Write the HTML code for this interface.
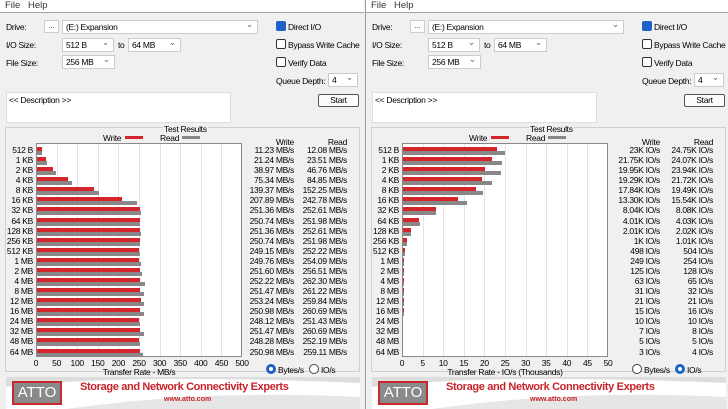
<!DOCTYPE html>
<html><head><meta charset="utf-8"><style>
*{box-sizing:border-box;margin:0;padding:0}
body{width:728px;height:409px;overflow:hidden;background:#f0f0f0;font-family:"Liberation Sans",sans-serif;font-size:8.5px;letter-spacing:-0.3px;color:#000;position:relative}
.win{position:absolute;top:0;width:364px;height:409px;background:#f0f0f0;overflow:hidden}
.abs{position:absolute;white-space:nowrap}
.menu{position:absolute;left:0;top:0;width:364px;height:13px;background:#fff;border-bottom:1px solid #a0a0a0;color:#333;font-size:9.5px;letter-spacing:0}
.dd{position:absolute;height:14px;background:#fff;border:1px solid #ccc;padding-left:3px;line-height:12px}
.dd:after{content:"\2304";position:absolute;right:4px;top:-3px;color:#666;font-size:9px}
.cb{position:absolute;width:10px;height:10px;border:1px solid #333;border-radius:2px;background:#fff}
.cb.on{background:#1e62c8;border-color:#1e62c8}
.panel{position:absolute;left:5px;top:127px;width:355px;height:245px;border:1px solid #d0d0d0}
.plot{position:absolute;left:36px;top:143px;width:206px;height:214px;background:#fff;border:1px solid #888}
.grid{position:absolute;top:0;width:1px;height:212px;background:#e4e4e4}
.w{position:absolute;height:4px;background:#d4252d}
.r{position:absolute;height:4px;background:#888}
.lab{position:absolute;text-align:right;white-space:nowrap}
.banner{position:absolute;left:6px;top:377px;width:354px;height:32px;background:#fff;overflow:hidden}
</style></head><body>
<div class="win" id="w0" style="left:0"></div>
<div class="win" id="w1" style="left:365px;border-left:1px solid #999"></div>
<script>
var sizes=["512 B","1 KB","2 KB","4 KB","8 KB","16 KB","32 KB","64 KB","128 KB","256 KB","512 KB","1 MB","2 MB","4 MB","8 MB","12 MB","16 MB","24 MB","32 MB","48 MB","64 MB"];
var L={w:[11.23,21.24,38.97,75.34,139.37,207.89,251.36,250.74,251.36,250.74,249.15,249.76,251.60,252.22,251.47,253.24,250.98,248.12,251.47,248.28,250.98],
r:[12.08,23.51,46.76,84.85,152.25,242.78,252.61,251.98,252.61,251.98,252.22,254.09,256.51,262.30,261.22,259.84,260.69,251.43,260.69,252.19,259.11],max:500,
ticks:[0,50,100,150,200,250,300,350,400,450,500],title:"Transfer Rate - MB/s",
wt:null,rt:null,io:false};
var R={w:[23,21.75,19.95,19.29,17.84,13.30,8.04,4.01,2.01,1,.498,.249,.125,.063,.031,.021,.015,.010,.007,.005,.003],
r:[24.75,24.07,23.94,21.72,19.49,15.54,8.08,4.03,2.02,1.01,.504,.254,.128,.065,.032,.021,.016,.010,.008,.005,.004],max:50,
ticks:[0,5,10,15,20,25,30,35,40,45,50],title:"Transfer Rate - IO/s (Thousands)",
wt:["23K","21.75K","19.95K","19.29K","17.84K","13.30K","8.04K","4.01K","2.01K","1K","498","249","125","63","31","21","15","10","7","5","3"],
rt:["24.75K","24.07K","23.94K","21.72K","19.49K","15.54K","8.08K","4.03K","2.02K","1.01K","504","254","128","65","32","21","16","10","8","5","4"],io:true};
function build(el,D){
var h='';
h+='<div class="menu"><span class="abs" style="left:5px;top:0">File</span><span class="abs" style="left:28px;top:0">Help</span></div>';
h+='<span class="abs" style="left:6px;top:22px">Drive:</span>';
h+='<div class="abs" style="left:44px;top:20px;width:15px;height:13px;border:1px solid #ccc;background:#fdfdfd;text-align:center;line-height:9px;color:#555">...</div>';
h+='<div class="dd" style="left:62px;top:20px;width:196px">(E:) Expansion</div>';
h+='<span class="abs" style="left:6px;top:40px">I/O Size:</span>';
h+='<div class="dd" style="left:62px;top:38px;width:52px">512 B</div>';
h+='<span class="abs" style="left:118px;top:40px">to</span>';
h+='<div class="dd" style="left:128px;top:38px;width:53px">64 MB</div>';
h+='<span class="abs" style="left:6px;top:58px">File Size:</span>';
h+='<div class="dd" style="left:62px;top:55px;width:53px">256 MB</div>';
h+='<div class="cb on" style="left:276px;top:21px"></div><span class="abs" style="left:288px;top:22px">Direct I/O</span>';
h+='<div class="cb" style="left:276px;top:39px"></div><span class="abs" style="left:288px;top:40px">Bypass Write Cache</span>';
h+='<div class="cb" style="left:276px;top:57px"></div><span class="abs" style="left:288px;top:58px">Verify Data</span>';
h+='<span class="abs" style="left:276px;top:76px">Queue Depth:</span>';
h+='<div class="dd" style="left:328px;top:73px;width:30px">4</div>';
h+='<div class="abs" style="left:6px;top:92px;width:225px;height:31px;background:#fff;border:1px solid #ddd;padding:2px 2px">&lt;&lt; Description &gt;&gt;</div>';
h+='<div class="abs" style="left:318px;top:94px;width:41px;height:13px;border:1px solid #555;border-radius:2px;background:#fcfcfc;text-align:center;line-height:11px">Start</div>';
h+='<div class="panel"></div>';
h+='<span class="abs" style="left:163px;top:124px;background:#f0f0f0;padding:0 1px">Test Results</span>';
h+='<span class="abs" style="left:103px;top:133px">Write</span><div class="abs" style="left:125px;top:136px;width:18px;height:3px;background:#d4252d"></div>';
h+='<span class="abs" style="left:160px;top:133px">Read</span><div class="abs" style="left:182px;top:136px;width:18px;height:3px;background:#888"></div>';
h+='<span class="lab" style="left:250px;width:44px;top:137px">Write</span><span class="lab" style="left:300px;width:47px;top:137px">Read</span>';
h+='<div class="plot">';
for(var i=1;i<10;i++)h+='<div class="grid" style="left:'+(i*20.6-1).toFixed(1)+'px"></div>';
var n=sizes.length,y0=7.5,st=(209-y0)/(n-1);
for(var i=0;i<n;i++){var c=y0+i*st;var ww=D.w[i]/D.max*205,rw=D.r[i]/D.max*205;
h+='<div class="w" style="left:0;top:'+(c-4.5).toFixed(1)+'px;width:'+ww.toFixed(1)+'px"></div>';
h+='<div class="r" style="left:0;top:'+(c-0.5).toFixed(1)+'px;width:'+rw.toFixed(1)+'px"></div>';}
h+='</div>';
for(var i=0;i<n;i++){var cy=143+y0+i*st-5.5;
h+='<span class="lab" style="left:0;width:33px;top:'+cy.toFixed(1)+'px">'+sizes[i]+'</span>';
var wv=D.io?D.wt[i]+' IO/s':D.w[i].toFixed(2)+' MB/s',rv=D.io?D.rt[i]+' IO/s':D.r[i].toFixed(2)+' MB/s';
h+='<span class="lab" style="left:230px;width:64px;top:'+cy.toFixed(1)+'px">'+wv+'</span>';
h+='<span class="lab" style="left:285px;width:62px;top:'+cy.toFixed(1)+'px">'+rv+'</span>';}
for(var i=0;i<11;i++){h+='<span class="abs" style="left:'+(36+i*20.6-15).toFixed(1)+'px;width:30px;text-align:center;top:358px">'+D.ticks[i]+'</span>';}
h+='<span class="abs" style="left:36px;width:206px;text-align:center;top:367px">'+D.title+'</span>';
function rad(x,on){return '<div class="abs" style="left:'+x+'px;top:364px;width:10px;height:10px;border-radius:50%;border:'+(on?'3px solid #1e62c8':'1px solid #444')+';background:#fff"></div>';}
h+=rad(266,!D.io)+'<span class="abs" style="left:278px;top:365px">Bytes/s</span>';
h+=rad(309,D.io)+'<span class="abs" style="left:321px;top:365px">IO/s</span>';
h+='<div class="banner"><svg width="354" height="32" style="position:absolute;left:0;top:0"><path d="M0 10 Q120 -4 354 6 L354 0 L0 0Z" fill="#ddd"/><path d="M60 32 Q200 12 354 20 L354 32Z" fill="#e6e6e6"/></svg>';
h+='<div class="abs" style="left:6px;top:4px;width:50px;height:24px;background:#8a8a8a;border:2px solid #c62a2f;color:#fff;font-size:15px;letter-spacing:0;text-align:center;line-height:20px">ATTO</div>';
h+='<span class="abs" style="left:74px;top:4px;color:#c8232b;font-weight:bold;font-size:11px;letter-spacing:-0.35px">Storage and Network Connectivity Experts</span>';
h+='<span class="abs" style="left:158px;top:19px;color:#c8232b;font-weight:bold;font-size:7px;letter-spacing:0">www.atto.com</span></div>';
el.innerHTML=h;}
build(document.getElementById('w0'),L);build(document.getElementById('w1'),R);
</script>
</body></html>
